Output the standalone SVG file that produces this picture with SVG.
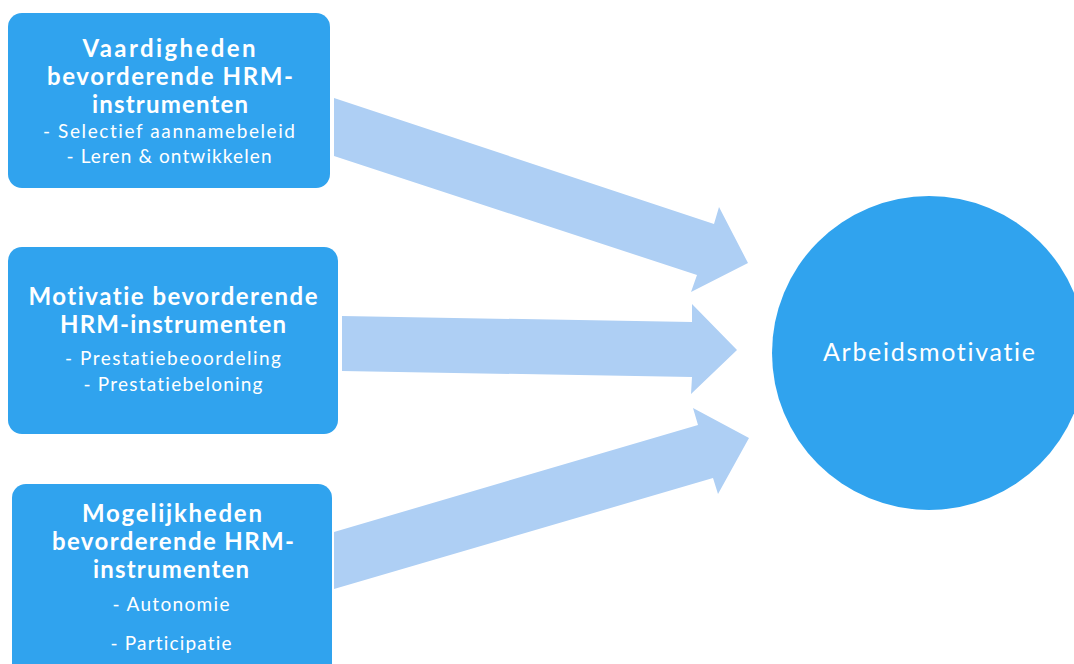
<svg xmlns="http://www.w3.org/2000/svg" width="1074" height="664" viewBox="0 0 1074 664">
<style>
.box{fill:#30A3EE}
.arr{fill:#AECFF4}
.t{font-family:Lato,"Liberation Sans",sans-serif;fill:#fff;text-anchor:middle;font-variant-ligatures:none}
.h{font-size:24px;font-weight:bold}
.s{font-size:19px}
.c{font-size:25px}
</style>
<rect width="1074" height="664" fill="#fff"/>
<g id="connectors">
<polygon class="arr" points="334,98 714,224 719,207 748,263 691,292 697,275 334,156"/>
<polygon class="arr" points="342,316 692,322 692,304 737,350 691,394 692,377 342,371"/>
<polygon class="arr" points="334,532 698,425 693,408 749,438 718,494 713,478 334,589"/>
</g>
<g id="node1">
<rect class="box" x="8" y="13" width="322" height="175" rx="14"/>
<text class="t h" x="169" y="57" textLength="173" lengthAdjust="spacing">Vaardigheden</text>
<text class="t h" x="170" y="85" textLength="246" lengthAdjust="spacing">bevorderende HRM-</text>
<text class="t h" x="170" y="113" textLength="156" lengthAdjust="spacing">instrumenten</text>
<text class="t s" x="169" y="138" textLength="252" lengthAdjust="spacing">- Selectief aannamebeleid</text>
<text class="t s" x="169" y="163" textLength="205" lengthAdjust="spacing">- Leren &amp; ontwikkelen</text>
</g>
<g id="node2">
<rect class="box" x="8" y="247" width="330" height="187" rx="14"/>
<text class="t h" x="173" y="305" textLength="289" lengthAdjust="spacing">Motivatie bevorderende</text>
<text class="t h" x="173" y="333" textLength="226" lengthAdjust="spacing">HRM-instrumenten</text>
<text class="t s" x="173" y="365" textLength="216" lengthAdjust="spacing">-  Prestatiebeoordeling</text>
<text class="t s" x="173" y="391" textLength="179" lengthAdjust="spacing">- Prestatiebeloning</text>
</g>
<g id="node3">
<rect class="box" x="12" y="484" width="320" height="200" rx="14"/>
<text class="t h" x="172" y="522" textLength="180" lengthAdjust="spacing">Mogelijkheden</text>
<text class="t h" x="173" y="550" textLength="242" lengthAdjust="spacing">bevorderende HRM-</text>
<text class="t h" x="171" y="578" textLength="156" lengthAdjust="spacing">instrumenten</text>
<text class="t s" x="171" y="611" textLength="117" lengthAdjust="spacing">-  Autonomie</text>
<text class="t s" x="171" y="650" textLength="121" lengthAdjust="spacing">- Participatie</text>
</g>
<g id="node4">
<circle class="box" cx="929" cy="353" r="157"/>
<text class="t c" x="929" y="361" textLength="212" lengthAdjust="spacing">Arbeidsmotivatie</text>
</g>
</svg>
